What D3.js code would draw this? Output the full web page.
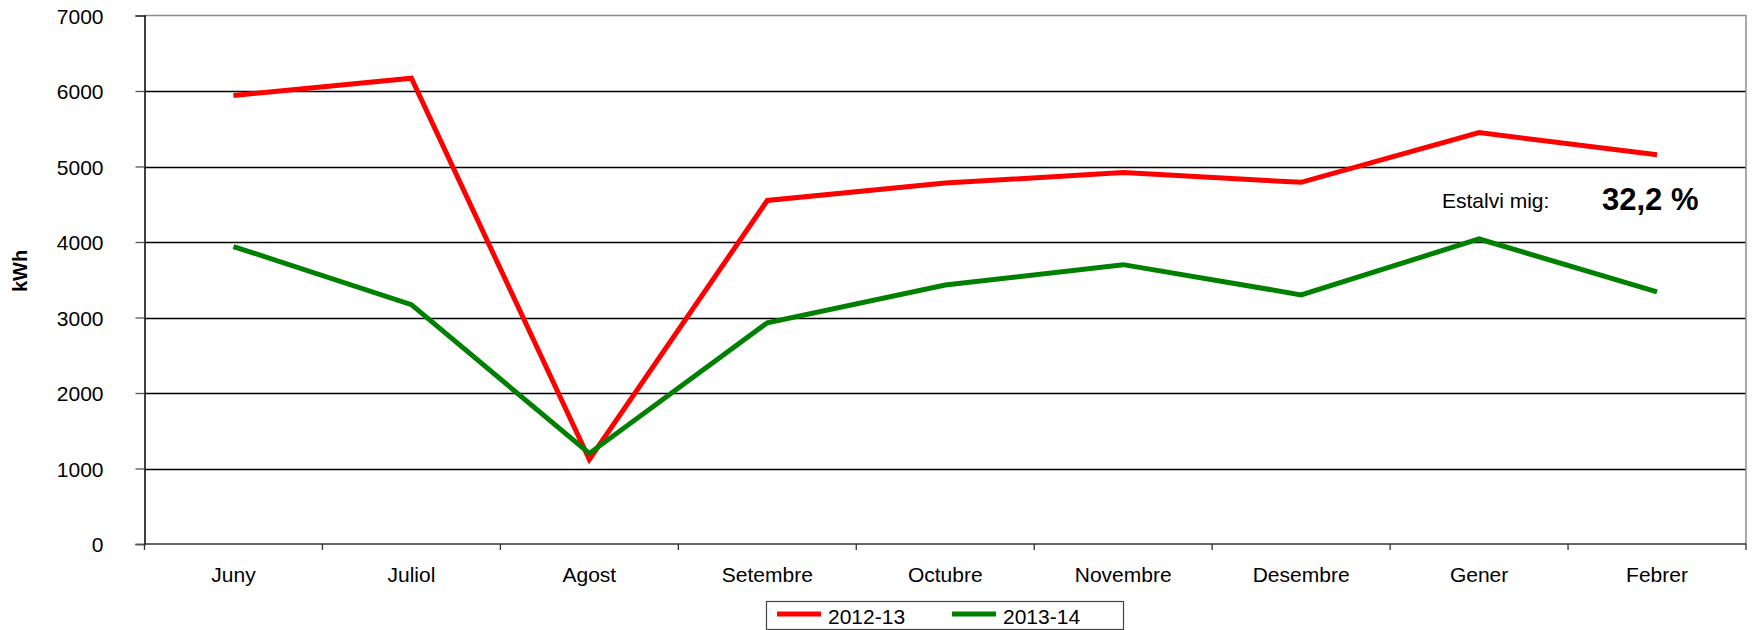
<!DOCTYPE html>
<html>
<head>
  <meta charset="utf-8" />
  <title>Consum kWh</title>
  <script type="text/javascript" src="https://cdn.jsdelivr.net/npm/d3@7"></script>
  <style>
    body{ margin:0; background:white; }
    text{ font-family: "Liberation Sans", Arial, sans-serif; fill:#000; }
  </style>
</head>
<body>
  <script type="text/javascript">
    // - - - - - DATA - - - - - //
    var months = ["Juny","Juliol","Agost","Setembre","Octubre","Novembre","Desembre","Gener","Febrer"];
    var s2012 = [5940, 6170, 1120, 4550, 4780, 4920, 4790, 5450, 5155];
    var s2013 = [3940, 3170, 1200, 2930, 3430, 3700, 3300, 4040, 3340];
    var seriesNames = ["2012-13", "2013-14"];
    var seriesColors = ["#ff0000", "#008000"];
    var yTicks = [0,1000,2000,3000,4000,5000,6000,7000];

    // - - - - - CANVAS - - - - - //
    var w = 1752, h = 630;
    // plot area edges (avoid "top": it is a read-only window property)
    var pLeft = 144.5, pRight = 1746, pTop = 15.5, pBottom = 544;

    var svg = d3.select("body").append("svg")
      .attr("width", w)
      .attr("height", h);

    // - - - - - SCALES - - - - - //
    var xBand = d3.scaleBand()
      .domain(months)
      .range([pLeft, pRight])
      .padding(0);
    var yScale = d3.scaleLinear()
      .domain([0, 7000])
      .range([pBottom, pTop]);

    // gridlines
    svg.append("g").selectAll("line")
      .data(yTicks.filter(function(d){ return d > 0 && d < 7000; }))
      .enter().append("line")
      .attr("x1", pLeft).attr("x2", pRight)
      .attr("y1", function(d){ return Math.round(yScale(d)) + 0.5; })
      .attr("y2", function(d){ return Math.round(yScale(d)) + 0.5; })
      .attr("stroke", "#000").attr("stroke-width", 1.3);

    // plot border (top + right, grey)
    svg.append("path")
      .attr("d", "M" + pLeft + "," + pTop + "H" + pRight + "V" + pBottom)
      .attr("fill", "none")
      .attr("stroke", "#8c8c8c").attr("stroke-width", 1.5);

    // y axis
    var yAxis = d3.axisLeft(yScale)
      .tickValues(yTicks)
      .tickSize(9)
      .tickPadding(32)
      .tickFormat(d3.format("d"));
    var gy = svg.append("g")
      .attr("transform", "translate(" + pLeft + ",0)")
      .call(yAxis);
    gy.select(".domain").attr("stroke", "#000").attr("stroke-width", 1.5);
    gy.selectAll(".tick line").attr("stroke", "#555").attr("stroke-width", 1.3);
    gy.selectAll(".tick text")
      .attr("font-size", "21px")
      .attr("font-family", "'Liberation Sans', Arial, sans-serif")
      .attr("dy", "0.36em");

    // x axis: ticks on band boundaries
    var gx = svg.append("g")
      .attr("transform", "translate(0," + pBottom + ")");
    gx.append("line")
      .attr("x1", pLeft).attr("x2", pRight)
      .attr("stroke", "#333").attr("stroke-width", 1.6);
    var bounds = months.map(function(m){ return xBand(m); }).concat([pRight]);
    gx.selectAll("line.tk")
      .data(bounds)
      .enter().append("line")
      .attr("class", "tk")
      .attr("x1", function(d){ return d; }).attr("x2", function(d){ return d; })
      .attr("y1", 0).attr("y2", 6)
      .attr("stroke", "#333").attr("stroke-width", 1.3);
    gx.selectAll("text")
      .data(months)
      .enter().append("text")
      .attr("x", function(d){ return xBand(d) + xBand.bandwidth()/2; })
      .attr("y", 38)
      .attr("text-anchor", "middle")
      .attr("font-size", "21px")
      .text(function(d){ return d; });

    // y label
    svg.append("text")
      .attr("transform", "translate(26.5,271) rotate(-90)")
      .attr("text-anchor", "middle")
      .attr("font-size", "20px")
      .attr("font-weight", "bold")
      .text("kWh");

    // - - - - - LINES - - - - - //
    var line = d3.line()
      .x(function(d, i){ return xBand(months[i]) + xBand.bandwidth()/2; })
      .y(function(d){ return yScale(d); });

    [s2012, s2013].forEach(function(s, k){
      svg.append("path")
        .datum(s)
        .attr("d", line)
        .attr("fill", "none")
        .attr("stroke", seriesColors[k])
        .attr("stroke-width", 5)
        .attr("stroke-linejoin", "miter");
    });

    // annotation
    svg.append("text")
      .attr("x", 1442).attr("y", 208)
      .attr("font-size", "21px")
      .text("Estalvi mig:");
    svg.append("text")
      .attr("x", 1602).attr("y", 210)
      .attr("font-size", "31px")
      .attr("font-weight", "bold")
      .text("32,2 %");

    // - - - - - LEGEND - - - - - //
    var lg = svg.append("g");
    lg.append("rect")
      .attr("x", 766.5).attr("y", 601.5)
      .attr("width", 357).attr("height", 28)
      .attr("fill", "white")
      .attr("stroke", "#444").attr("stroke-width", 1.2);
    var lx = [777, 952];
    seriesNames.forEach(function(n, k){
      lg.append("line")
        .attr("x1", lx[k]).attr("x2", lx[k] + 44)
        .attr("y1", 614).attr("y2", 614)
        .attr("stroke", seriesColors[k]).attr("stroke-width", 5);
      lg.append("text")
        .attr("x", lx[k] + 51).attr("y", 624)
        .attr("font-size", "21px")
        .text(n);
    });
  </script>
</body>
</html>
